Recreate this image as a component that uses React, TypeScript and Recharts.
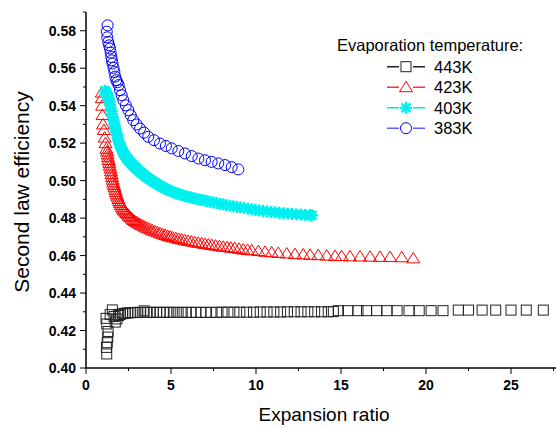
import { ScatterChart, Scatter, XAxis, YAxis, Legend } from "recharts";

const FONT = "'Liberation Sans', Arial, sans-serif";

const X_TICKS = [0, 2.5, 5, 7.5, 10, 12.5, 15, 17.5, 20, 22.5, 25, 27.5];
const Y_TICKS = [
  0.4, 0.41, 0.42, 0.43, 0.44, 0.45, 0.46, 0.47, 0.48, 0.49, 0.5, 0.51, 0.52, 0.53,
  0.54, 0.55, 0.56, 0.57, 0.58, 0.59,
];

// [expansion ratio, second law efficiency]
const T443: [number, number][] = [
  [1.22, 0.4075], [1.2, 0.411], [1.25, 0.4135], [1.28, 0.4165], [1.3, 0.4195],
  [1.22, 0.4235], [1.18, 0.4265], [1.42, 0.4285], [1.55, 0.431], [1.65, 0.4275],
  [1.72, 0.4245], [1.82, 0.4262], [1.92, 0.428], [2.02, 0.4286], [2.15, 0.429],
  [2.3, 0.4292], [2.45, 0.4294], [2.6, 0.4295], [2.75, 0.4296], [2.9, 0.4296],
  [3.05, 0.4297], [3.22, 0.4297], [3.42, 0.4305], [3.6, 0.4297], [3.78, 0.4297],
  [3.96, 0.4297], [4.15, 0.4297], [4.35, 0.4297], [4.55, 0.4297], [4.75, 0.4297],
  [4.95, 0.4297], [5.18, 0.4297], [5.42, 0.4297], [5.66, 0.4297], [5.9, 0.4297],
  [6.18, 0.4297], [6.46, 0.4297], [6.75, 0.4297], [7.05, 0.4297], [7.35, 0.4297],
  [7.68, 0.4297], [8.0, 0.4298], [8.35, 0.4298], [8.7, 0.4298], [9.05, 0.4298],
  [9.45, 0.4298], [9.85, 0.4298], [10.25, 0.4299], [10.65, 0.4299], [11.05, 0.4299],
  [11.45, 0.4299], [11.85, 0.43], [12.25, 0.43], [12.65, 0.43], [13.05, 0.43],
  [13.45, 0.43], [13.85, 0.43], [14.25, 0.43], [14.55, 0.4301], [14.85, 0.4306],
  [15.4, 0.4306], [16.0, 0.4306], [16.5, 0.4306], [17.1, 0.4306], [17.7, 0.4306],
  [18.3, 0.4306], [19.0, 0.4306], [19.6, 0.4306], [20.3, 0.4306], [21.0, 0.4306],
  [21.9, 0.4309], [22.5, 0.4309], [23.3, 0.4309], [24.1, 0.4309], [25.0, 0.4309],
  [25.9, 0.4309], [26.9, 0.4309],
];

const T423: [number, number][] = [
  [0.93, 0.547], [0.93, 0.544], [0.95, 0.54], [0.97, 0.535], [1.0, 0.53],
  [1.05, 0.527], [1.1, 0.523], [1.15, 0.52], [1.2, 0.517], [1.24, 0.5155],
  [1.27, 0.514], [1.3, 0.5125], [1.33, 0.511], [1.37, 0.5095], [1.4, 0.508],
  [1.44, 0.5065], [1.47, 0.505], [1.5, 0.5035], [1.53, 0.502], [1.57, 0.5005],
  [1.6, 0.499], [1.64, 0.4977], [1.68, 0.4965], [1.72, 0.4952], [1.76, 0.494],
  [1.8, 0.4927], [1.85, 0.4915], [1.9, 0.4902], [1.95, 0.489], [2.0, 0.488],
  [2.05, 0.487], [2.11, 0.486], [2.17, 0.485], [2.23, 0.4842], [2.3, 0.4835],
  [2.37, 0.4827], [2.45, 0.482], [2.52, 0.4812], [2.6, 0.4805], [2.69, 0.4797],
  [2.78, 0.479], [2.87, 0.4784], [2.97, 0.4778], [3.07, 0.4772], [3.17, 0.4767],
  [3.28, 0.4761], [3.4, 0.4756], [3.52, 0.475], [3.65, 0.4745], [3.78, 0.474],
  [3.9, 0.4735], [4.05, 0.473], [4.2, 0.4724], [4.35, 0.4719], [4.5, 0.4714],
  [4.65, 0.471], [4.8, 0.4705], [4.95, 0.4701], [5.1, 0.4697], [5.28, 0.4693],
  [5.45, 0.4689], [5.62, 0.4686], [5.8, 0.4682], [6.0, 0.4678], [6.2, 0.4675],
  [6.4, 0.4671], [6.6, 0.4668], [6.8, 0.4665], [7.0, 0.4662], [7.2, 0.4659],
  [7.4, 0.4656], [7.62, 0.4653], [7.85, 0.465], [8.07, 0.4647], [8.3, 0.4645],
  [8.52, 0.4642], [8.75, 0.464], [9.0, 0.4636], [9.25, 0.4632], [9.5, 0.463],
  [9.75, 0.4628], [10.14, 0.4624], [10.53, 0.462], [10.92, 0.4617], [11.31, 0.4614],
  [11.81, 0.4611], [12.29, 0.4608], [12.78, 0.4606], [13.18, 0.4604], [13.66, 0.4602],
  [14.16, 0.46], [14.65, 0.4598], [15.04, 0.4597], [15.53, 0.4596], [16.12, 0.4595],
  [16.71, 0.4594], [17.29, 0.4593], [17.88, 0.4592], [18.57, 0.4591], [19.25, 0.4585],
];

const T403: [number, number][] = [
  [1.1, 0.548], [1.14, 0.5478], [1.18, 0.5472], [1.22, 0.5465], [1.26, 0.5456],
  [1.3, 0.5447], [1.34, 0.5433], [1.38, 0.542], [1.42, 0.5404], [1.46, 0.5387],
  [1.5, 0.537], [1.54, 0.5353], [1.58, 0.5336], [1.62, 0.532], [1.66, 0.5304],
  [1.7, 0.5289], [1.74, 0.5274], [1.78, 0.526], [1.82, 0.5245], [1.86, 0.523],
  [1.9, 0.5216], [1.95, 0.5202], [2.0, 0.519], [2.05, 0.5179], [2.1, 0.5168],
  [2.15, 0.5158], [2.2, 0.5148], [2.25, 0.5141], [2.3, 0.5134], [2.35, 0.5127],
  [2.4, 0.512], [2.46, 0.5114], [2.52, 0.5107], [2.58, 0.5101], [2.64, 0.5094],
  [2.7, 0.5088], [2.77, 0.5082], [2.84, 0.5076], [2.91, 0.507], [2.98, 0.5064],
  [3.05, 0.5058], [3.13, 0.5051], [3.21, 0.5045], [3.29, 0.5039], [3.37, 0.5033],
  [3.45, 0.5027], [3.54, 0.5021], [3.63, 0.5015], [3.72, 0.5009], [3.82, 0.5003],
  [3.92, 0.4997], [4.02, 0.4991], [4.13, 0.4985], [4.24, 0.4979], [4.35, 0.4973],
  [4.47, 0.4967], [4.59, 0.4961], [4.71, 0.4956], [4.84, 0.495], [4.97, 0.4945],
  [5.1, 0.494], [5.24, 0.4935], [5.38, 0.4931], [5.52, 0.4926], [5.67, 0.4922],
  [5.82, 0.4918], [5.97, 0.4914], [6.13, 0.4911], [6.29, 0.4907], [6.45, 0.4903],
  [6.62, 0.49], [6.79, 0.4897], [6.96, 0.4894], [7.14, 0.489], [7.32, 0.4887],
  [7.5, 0.4883], [7.69, 0.488], [7.88, 0.4876], [8.07, 0.4873], [8.27, 0.487],
  [8.47, 0.4866], [8.67, 0.4863], [8.88, 0.486], [9.09, 0.4857], [9.3, 0.4854],
  [9.52, 0.485], [9.74, 0.4847], [9.96, 0.4844], [10.19, 0.4841], [10.42, 0.4838],
  [10.65, 0.4836], [10.89, 0.4833], [11.13, 0.4831], [11.37, 0.4828], [11.62, 0.4826],
  [11.87, 0.4824], [12.12, 0.4822], [12.38, 0.482], [12.64, 0.4819], [12.9, 0.4817],
  [13.17, 0.4816], [13.3, 0.4815],
];

const T383: [number, number][] = [
  [1.27, 0.5829], [1.22, 0.5795], [1.25, 0.5765], [1.31, 0.574], [1.36, 0.5722],
  [1.41, 0.5705], [1.45, 0.5683], [1.49, 0.566], [1.52, 0.5642], [1.56, 0.5625],
  [1.62, 0.5602], [1.67, 0.558], [1.72, 0.5555], [1.78, 0.5536], [1.85, 0.5525],
  [1.92, 0.551], [2.0, 0.5483], [2.1, 0.5456], [2.2, 0.5429], [2.34, 0.5402],
  [2.49, 0.5376], [2.63, 0.5349], [2.78, 0.5323], [2.98, 0.53], [3.18, 0.5278],
  [3.42, 0.5256], [3.66, 0.5234], [4.0, 0.5216], [4.35, 0.5198], [4.7, 0.5185],
  [5.04, 0.5172], [5.43, 0.5158], [5.82, 0.5145], [6.22, 0.5131], [6.61, 0.5118],
  [7.0, 0.5109], [7.39, 0.51], [7.78, 0.5092], [8.18, 0.5083], [8.57, 0.5072],
  [8.96, 0.506],
];

type Kind = "square" | "triangle" | "star" | "circle";

const SERIES: { name: string; data: [number, number][]; color: string; line: string; kind: Kind }[] = [
  { name: "443K", data: T443, color: "#222222", line: "#222222", kind: "square" },
  { name: "423K", data: T423, color: "#ff0000", line: "#ff3030", kind: "triangle" },
  { name: "403K", data: T403, color: "#00f0f0", line: "#00e8e8", kind: "star" },
  { name: "383K", data: T383, color: "#0000ff", line: "#6060ff", kind: "circle" },
];

function Marker({ kind, cx, cy, color }: { kind: Kind; cx: number; cy: number; color: string }) {
  if (kind === "square") {
    return <rect x={cx - 5} y={cy - 5} width={10} height={10} fill="none" stroke={color} strokeWidth={1} />;
  }
  if (kind === "triangle") {
    return (
      <polygon
        points={`${cx},${cy - 6} ${cx - 6.5},${cy + 4.5} ${cx + 6.5},${cy + 4.5}`}
        fill="none"
        stroke={color}
        strokeWidth={1}
      />
    );
  }
  if (kind === "star") {
    const r = 6;
    const d = 4.4;
    return (
      <g stroke={color} strokeWidth={2.4}>
        <line x1={cx - r} y1={cy} x2={cx + r} y2={cy} />
        <line x1={cx} y1={cy - r} x2={cx} y2={cy + r} />
        <line x1={cx - d} y1={cy - d} x2={cx + d} y2={cy + d} />
        <line x1={cx - d} y1={cy + d} x2={cx + d} y2={cy - d} />
      </g>
    );
  }
  return <circle cx={cx} cy={cy} r={5.5} fill="none" stroke={color} strokeWidth={1} />;
}

function XTick(props: any) {
  const { x, y, payload, top } = props;
  const v = payload.value as number;
  const major = v % 5 === 0;
  const len = major ? 6 : 3;
  const dir = top ? -1 : 1;
  return (
    <g>
      <line x1={x} y1={y} x2={x} y2={y + dir * len} stroke="#000" strokeWidth={1} />
      {!top && major && (
        <text x={x} y={y + 22} textAnchor="middle" fontSize={14} fontWeight="bold" fontFamily={FONT} fill="#000">
          {v}
        </text>
      )}
    </g>
  );
}

function YTick(props: any) {
  const { x, y, payload } = props;
  const v = payload.value as number;
  const major = Math.round(v * 100) % 2 === 0;
  const len = major ? 6 : 3;
  return (
    <g>
      <line x1={x} y1={y} x2={x - len} y2={y} stroke="#000" strokeWidth={1} />
      {major && v < 0.589 && (
        <text x={x - 10} y={y + 5} textAnchor="end" fontSize={14} fontWeight="bold" fontFamily={FONT} fill="#000">
          {v.toFixed(2)}
        </text>
      )}
    </g>
  );
}

function LegendBox() {
  return (
    <svg width={230} height={120} style={{ display: "block" }}>
      <text x={17} y={26} fontSize={16.5} fontFamily={FONT} fill="#000">
        Evaporation temperature:
      </text>
      {SERIES.map((s, i) => {
        const base = 47.7 + i * 20.5;
        const ly = base - 6;
        return (
          <g key={s.name}>
            <line x1={67} y1={ly} x2={105} y2={ly} stroke={s.line} strokeWidth={1.5} />
            <rect x={79} y={ly - 6} width={14} height={12} fill="#fff" />
            <Marker kind={s.kind} cx={86} cy={ly} color={s.color} />
            <text x={114} y={base} fontSize={16.5} fontFamily={FONT} fill="#000">
              {s.name}
            </text>
          </g>
        );
      })}
    </svg>
  );
}

export default function App() {
  return (
    <div style={{ position: "absolute", left: 0, top: 0, width: 556, height: 427, overflow: "hidden", background: "#fff" }}>
      <ScatterChart width={570} height={427} margin={{ top: 12, right: 8, bottom: 0, left: 0 }}>
        <XAxis
          xAxisId="b"
          type="number"
          dataKey="x"
          domain={[0, 28]}
          ticks={X_TICKS}
          interval={0}
          tickSize={0}
          tickMargin={0}
          tick={(p: any) => <XTick {...p} />}
          height={59}
          axisLine={{ stroke: "#000", strokeWidth: 1.5 }}
          allowDataOverflow
          label={(p: any) => {
            const vb = p.viewBox;
            return (
              <text x={vb.x + vb.width / 2} y={vb.y + 53} textAnchor="middle" fontSize={19} fontFamily={FONT} fill="#000">
                Expansion ratio
              </text>
            );
          }}
        />
        <XAxis
          xAxisId="t"
          orientation="top"
          type="number"
          dataKey="x"
          domain={[0, 28]}
          ticks={X_TICKS}
          interval={0}
          tickSize={0}
          tickMargin={0}
          tick={(p: any) => <XTick {...p} top />}
          height={0}
          axisLine={{ stroke: "#000", strokeWidth: 1.5 }}
          allowDataOverflow
        />
        <YAxis
          type="number"
          dataKey="y"
          domain={[0.4, 0.59]}
          ticks={Y_TICKS}
          interval={0}
          tickSize={0}
          tickMargin={0}
          tick={(p: any) => <YTick {...p} />}
          width={86}
          axisLine={{ stroke: "#000", strokeWidth: 1.5 }}
          allowDataOverflow
          label={(p: any) => {
            const vb = p.viewBox;
            const cy = vb.y + vb.height / 2 + 2;
            return (
              <text x={29} y={cy} transform={`rotate(-90 29 ${cy})`} textAnchor="middle" fontSize={21} fontFamily={FONT} fill="#000">
                Second law efficiency
              </text>
            );
          }}
        />
        {SERIES.map((s) => (
          <Scatter
            key={s.name}
            name={s.name}
            xAxisId="b"
            data={s.data.map(([x, y]) => ({ x, y }))}
            isAnimationActive={false}
            shape={(p: any) => <Marker kind={s.kind} cx={p.cx} cy={p.cy} color={s.color} />}
          />
        ))}
        <Legend
          layout="vertical"
          align="center"
          verticalAlign="middle"
          wrapperStyle={{ position: "absolute", left: 320, top: 25, width: 230, height: 120 }}
          content={() => <LegendBox />}
        />
      </ScatterChart>
    </div>
  );
}
